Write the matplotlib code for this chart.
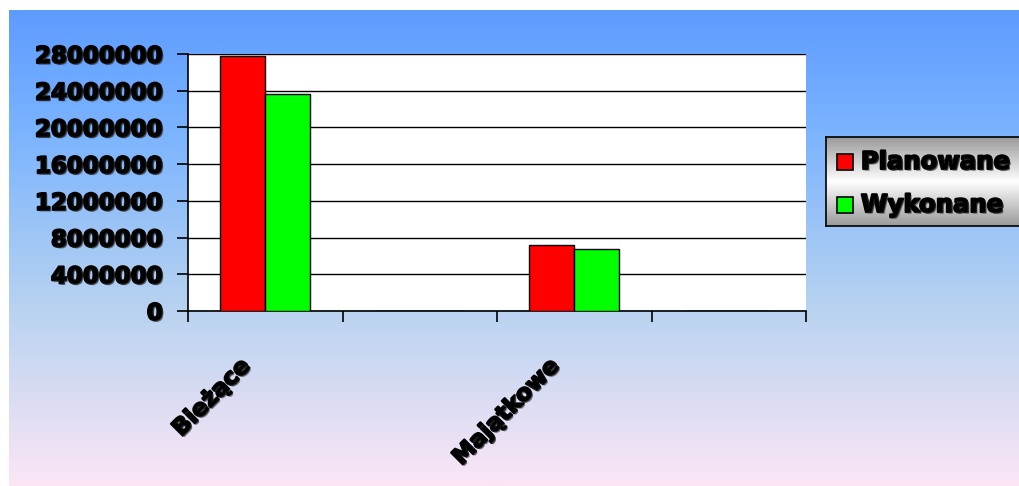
"""plot.py - wydatki: planowane vs wykonane (styl wykresu Excel)."""
import numpy as np
import matplotlib
matplotlib.use("Agg")
import matplotlib.pyplot as plt
import matplotlib.patheffects as pe
from matplotlib.colors import LinearSegmentedColormap

categories = ["Bieżące", "", "Majątkowe", ""]
planowane = [27800000, 0, 7200000, 0]
wykonane = [23600000, 0, 6750000, 0]
series_names = ["Planowane", "Wykonane"]
series_colors = ["#ff0000", "#00ff00"]
yticks = [0, 4000000, 8000000, 12000000, 16000000, 20000000, 24000000, 28000000]

W, H = 1020, 486
fig = plt.figure(figsize=(W / 100, H / 100), dpi=100)
fig.patch.set_facecolor("white")

# tlo z gradientem (niebieski -> rozowy)
bg = fig.add_axes([9 / W, 0, 1 - 9 / W, 1 - 10 / H], zorder=0)
cmap = LinearSegmentedColormap.from_list(
    "bg", [(0.0, "#5d9bff"), (0.25, "#7ab3ff"), (0.62, "#b6d2f0"), (1.0, "#fce6f6")])
bg.imshow(np.linspace(0, 1, 256).reshape(-1, 1), aspect="auto", cmap=cmap,
          extent=[0, 1, 0, 1], origin="upper")
bg.axis("off")

fx = [pe.withStroke(linewidth=1.6, foreground="black"),
      pe.withSimplePatchShadow(offset=(1.2, -1.2), shadow_rgbFace="#333333", alpha=0.6)]
font = dict(fontsize=16.5, fontweight="bold", family="DejaVu Sans")

ax = fig.add_axes([188 / W, 1 - 311 / H, (806 - 188) / W, (311 - 54) / H], zorder=2)
ax.set_facecolor("white")
x = np.arange(len(categories))
bw = 0.29
ax.bar(x - bw / 2, planowane, bw, color=series_colors[0], edgecolor="black", linewidth=1, zorder=3)
ax.bar(x + bw / 2, wykonane, bw, color=series_colors[1], edgecolor="black", linewidth=1, zorder=3)

ax.set_xlim(-0.5, len(categories) - 0.5)
ax.set_ylim(0, 28000000)
ax.set_yticks(yticks)
ax.set_yticklabels([str(v) for v in yticks], path_effects=fx, **font)
ax.yaxis.grid(True, color="black", linewidth=1)
ax.set_axisbelow(True)

ax.set_xticks(np.arange(len(categories) + 1) - 0.5)
ax.set_xticklabels([])
ax.set_xticks(x - 0.175, minor=True)
ax.set_xticklabels(categories, minor=True, rotation=45, ha="right",
                   rotation_mode="anchor", path_effects=fx, **font)
ax.tick_params(axis="x", which="minor", length=0, pad=31.5)
ax.tick_params(axis="both", which="major", direction="out", length=8,
               width=1.2, color="black")
ax.tick_params(axis="y", pad=10)

for s in ("top", "right"):
    ax.spines[s].set_visible(False)
for s in ("left", "bottom"):
    ax.spines[s].set_color("black")
    ax.spines[s].set_linewidth(1.2)

# legenda z szarym gradientem
lg_ax = fig.add_axes([826 / W, 1 - 226 / H, 200 / W, (226 - 137) / H], zorder=3)
gcm = LinearSegmentedColormap.from_list("lg", [(0, "#9a9a9a"), (0.5, "#ffffff"), (1, "#9a9a9a")])
lg_ax.imshow(np.linspace(0, 1, 128).reshape(-1, 1), aspect="auto", cmap=gcm,
             extent=[0, 1, 0, 1], origin="upper")
lg_ax.set_xlim(0, 1); lg_ax.set_ylim(0, 1)
lg_ax.set_xticks([]); lg_ax.set_yticks([])
for s in lg_ax.spines.values():
    s.set_color("black"); s.set_linewidth(1.2)

rows_y = [1 - (162 - 137) / 89, 1 - (205 - 137) / 89]
for name, col, yy in zip(series_names, series_colors, rows_y):
    lg_ax.plot([(845 - 826) / 200], [yy], marker="s", markersize=11.5, linestyle="",
               markerfacecolor=col, markeredgecolor="black", markeredgewidth=1.2)
    lg_ax.text((861 - 826) / 200, yy, name, va="center", ha="left",
               path_effects=fx, fontsize=17.5, fontweight="bold", family="DejaVu Sans")

fig.savefig("out.png", dpi=100, facecolor="white")
